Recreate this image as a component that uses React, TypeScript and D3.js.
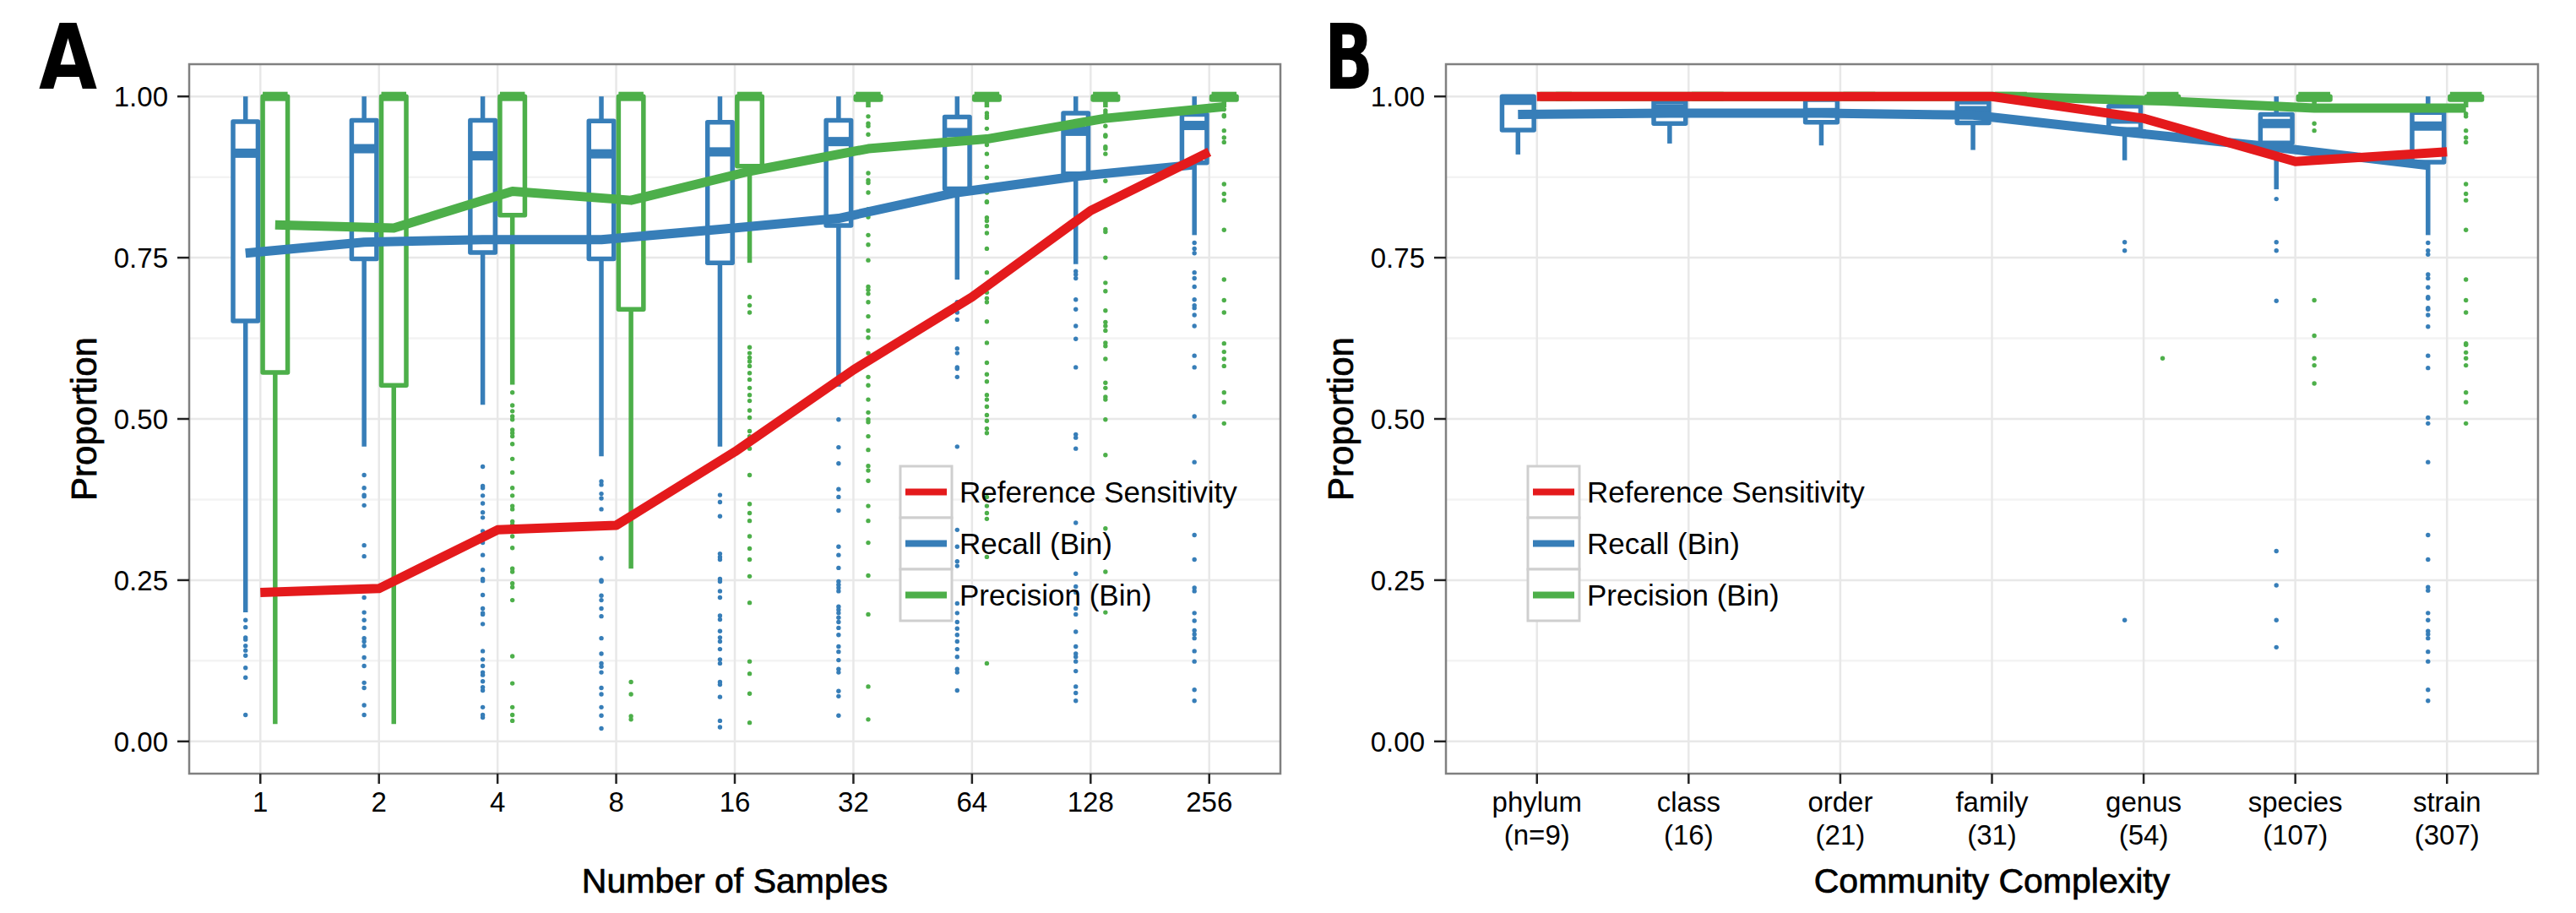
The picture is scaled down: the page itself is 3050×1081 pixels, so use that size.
import React from 'react';
import * as d3 from 'd3';

const W = 3050;
const H = 1081;
const RED = '#E41A1C';
const BLUE = '#377EB8';
const GREEN = '#4DAF4A';
const FONT = "'Liberation Sans', Arial, Helvetica, sans-serif";
const LETTER_FONT = "'Liberation Sans Narrow', 'DejaVu Sans Condensed', 'Liberation Sans', sans-serif";

// y axis
const yTicks = [0, 0.25, 0.5, 0.75, 1];

// legend
const legendLabels = ['Reference Sensitivity', 'Recall (Bin)', 'Precision (Bin)'];
const legendColors = [RED, BLUE, GREEN];

// ---- panel A : number of samples ----
const sampleCats = ['1', '2', '4', '8', '16', '32', '64', '128', '256'];
const sampleRefSens = [0.231, 0.237, 0.328, 0.335, 0.449, 0.576, 0.689, 0.823, 0.914];
const sampleRecall = [0.757, 0.774, 0.778, 0.778, 0.794, 0.811, 0.851, 0.876, 0.894];
const samplePrecision = [0.801, 0.796, 0.853, 0.839, 0.884, 0.919, 0.934, 0.966, 0.984];
// [lower whisker, q1, median, q3, upper whisker]
const sampleRecallBox = [
  [0.2, 0.652, 0.912, 0.961, 1.0],
  [0.457, 0.748, 0.919, 0.963, 1.0],
  [0.522, 0.758, 0.908, 0.963, 1.0],
  [0.442, 0.748, 0.911, 0.962, 1.0],
  [0.457, 0.742, 0.914, 0.96, 1.0],
  [0.55, 0.8, 0.93, 0.963, 1.0],
  [0.716, 0.857, 0.944, 0.968, 1.0],
  [0.74, 0.88, 0.946, 0.974, 1.0],
  [0.785, 0.897, 0.955, 0.972, 1.0],
];
const sampleRecallOut = [
  [0.188, 0.177, 0.161, 0.158, 0.148, 0.141, 0.133, 0.114, 0.099, 0.041],
  [0.413, 0.393, 0.382, 0.38, 0.366, 0.304, 0.287, 0.223, 0.2, 0.188, 0.176, 0.16, 0.155, 0.148, 0.13, 0.117, 0.091, 0.083, 0.056, 0.041],
  [0.426, 0.396, 0.393, 0.381, 0.369, 0.355, 0.347, 0.326, 0.308, 0.289, 0.266, 0.252, 0.249, 0.227, 0.206, 0.199, 0.197, 0.182, 0.14, 0.127, 0.117, 0.107, 0.103, 0.093, 0.084, 0.079, 0.053, 0.041, 0.037],
  [0.403, 0.398, 0.384, 0.377, 0.36, 0.284, 0.25, 0.248, 0.226, 0.219, 0.206, 0.194, 0.16, 0.136, 0.121, 0.116, 0.107, 0.083, 0.073, 0.053, 0.04, 0.02],
  [0.382, 0.371, 0.349, 0.291, 0.286, 0.282, 0.252, 0.248, 0.233, 0.223, 0.195, 0.189, 0.171, 0.161, 0.155, 0.143, 0.127, 0.121, 0.092, 0.088, 0.069, 0.032, 0.022],
  [0.499, 0.456, 0.431, 0.391, 0.379, 0.358, 0.302, 0.289, 0.269, 0.248, 0.243, 0.238, 0.233, 0.209, 0.204, 0.199, 0.192, 0.185, 0.176, 0.165, 0.147, 0.139, 0.126, 0.112, 0.107, 0.078, 0.07, 0.04],
  [0.681, 0.665, 0.654, 0.609, 0.602, 0.58, 0.578, 0.565, 0.457, 0.328, 0.302, 0.279, 0.272, 0.214, 0.199, 0.185, 0.175, 0.165, 0.155, 0.143, 0.131, 0.112, 0.107, 0.079],
  [0.729, 0.724, 0.718, 0.685, 0.67, 0.644, 0.624, 0.58, 0.476, 0.471, 0.454, 0.339, 0.26, 0.24, 0.231, 0.206, 0.197, 0.17, 0.147, 0.136, 0.131, 0.124, 0.109, 0.085, 0.075, 0.063],
  [0.773, 0.764, 0.757, 0.727, 0.718, 0.705, 0.685, 0.676, 0.672, 0.661, 0.644, 0.598, 0.58, 0.504, 0.433, 0.32, 0.282, 0.238, 0.233, 0.199, 0.187, 0.172, 0.166, 0.16, 0.14, 0.124, 0.08, 0.063],
];
const samplePrecisionBox = [
  [0.027, 0.572, 1.0, 1.0, 1.0],
  [0.027, 0.552, 1.0, 1.0, 1.0],
  [0.553, 0.816, 1.0, 1.0, 1.0],
  [0.268, 0.67, 1.0, 1.0, 1.0],
  [0.742, 0.892, 1.0, 1.0, 1.0],
  [0.983, 0.995, 1.0, 1.0, 1.0],
  [0.983, 0.995, 1.0, 1.0, 1.0],
  [0.983, 0.995, 1.0, 1.0, 1.0],
  [0.983, 0.995, 1.0, 1.0, 1.0],
];
const samplePrecisionOut = [
  [],
  [],
  [0.541, 0.521, 0.512, 0.504, 0.499, 0.483, 0.478, 0.473, 0.461, 0.438, 0.417, 0.393, 0.381, 0.365, 0.36, 0.341, 0.336, 0.318, 0.3, 0.268, 0.263, 0.245, 0.239, 0.219, 0.132, 0.09, 0.053, 0.041, 0.032],
  [0.092, 0.073, 0.039, 0.034],
  [0.689, 0.676, 0.665, 0.611, 0.602, 0.595, 0.589, 0.582, 0.571, 0.561, 0.548, 0.537, 0.528, 0.513, 0.502, 0.481, 0.473, 0.454, 0.413, 0.368, 0.354, 0.342, 0.318, 0.299, 0.282, 0.256, 0.215, 0.124, 0.105, 0.074, 0.029],
  [0.969, 0.958, 0.954, 0.941, 0.881, 0.87, 0.866, 0.851, 0.825, 0.813, 0.785, 0.77, 0.746, 0.705, 0.7, 0.694, 0.681, 0.659, 0.637, 0.626, 0.602, 0.587, 0.565, 0.552, 0.53, 0.51, 0.499, 0.495, 0.473, 0.452, 0.427, 0.42, 0.404, 0.365, 0.342, 0.308, 0.257, 0.197, 0.085, 0.034],
  [0.974, 0.97, 0.967, 0.95, 0.925, 0.911, 0.891, 0.874, 0.851, 0.837, 0.836, 0.812, 0.807, 0.799, 0.788, 0.764, 0.727, 0.696, 0.687, 0.681, 0.651, 0.618, 0.587, 0.569, 0.558, 0.537, 0.53, 0.519, 0.506, 0.497, 0.485, 0.478, 0.379, 0.365, 0.354, 0.345, 0.286, 0.121],
  [0.978, 0.974, 0.964, 0.954, 0.94, 0.938, 0.922, 0.919, 0.911, 0.869, 0.794, 0.79, 0.75, 0.711, 0.698, 0.668, 0.65, 0.644, 0.637, 0.618, 0.613, 0.593, 0.556, 0.548, 0.534, 0.53, 0.499, 0.444, 0.33, 0.263, 0.2],
  [0.98, 0.971, 0.969, 0.947, 0.936, 0.929, 0.864, 0.849, 0.839, 0.793, 0.716, 0.684, 0.665, 0.617, 0.604, 0.593, 0.582, 0.541, 0.526, 0.493],
];

// ---- panel B : community complexity ----
const levelCats = ['phylum', 'class', 'order', 'family', 'genus', 'species', 'strain'];
const levelCounts = ['(n=9)', '(16)', '(21)', '(31)', '(54)', '(107)', '(307)'];
const levelRefSens = [1.0, 1.0, 1.0, 1.0, 0.966, 0.899, 0.914];
const levelRecall = [0.972, 0.974, 0.974, 0.971, 0.945, 0.921, 0.893];
const levelPrecision = [1.0, 1.0, 1.0, 1.0, 0.993, 0.982, 0.982];
const levelRecallBox = [
  [0.91, 0.948, 0.994, 1.0, 1.0],
  [0.927, 0.958, 0.981, 0.992, 1.0],
  [0.924, 0.96, 0.975, 0.995, 1.0],
  [0.917, 0.959, 0.978, 0.991, 1.0],
  [0.901, 0.949, 0.965, 0.985, 1.0],
  [0.856, 0.928, 0.958, 0.972, 1.0],
  [0.785, 0.898, 0.954, 0.975, 1.0],
];
const levelRecallOut = [
  [],
  [],
  [],
  [],
  [0.774, 0.761, 0.188],
  [0.841, 0.774, 0.761, 0.683, 0.295, 0.242, 0.188, 0.146],
  [0.773, 0.761, 0.755, 0.724, 0.718, 0.704, 0.689, 0.687, 0.672, 0.67, 0.661, 0.643, 0.598, 0.579, 0.502, 0.493, 0.433, 0.32, 0.282, 0.239, 0.234, 0.199, 0.188, 0.171, 0.166, 0.16, 0.139, 0.124, 0.08, 0.063],
];
const levelPrecisionBox = [
  [1.0, 1.0, 1.0, 1.0, 1.0],
  [1.0, 1.0, 1.0, 1.0, 1.0],
  [1.0, 1.0, 1.0, 1.0, 1.0],
  [1.0, 1.0, 1.0, 1.0, 1.0],
  [0.99, 0.997, 1.0, 1.0, 1.0],
  [0.983, 0.995, 1.0, 1.0, 1.0],
  [0.983, 0.995, 1.0, 1.0, 1.0],
];
const levelPrecisionOut = [
  [],
  [],
  [],
  [],
  [0.594],
  [0.958, 0.947, 0.684, 0.629, 0.594, 0.583, 0.555],
  [0.973, 0.969, 0.947, 0.936, 0.929, 0.864, 0.849, 0.839, 0.793, 0.716, 0.684, 0.665, 0.617, 0.615, 0.603, 0.594, 0.583, 0.541, 0.526, 0.493],
];

const y = d3.scaleLinear().domain([-0.05, 1.05]).range([916, 76]);
const fmt = d3.format('.2f');

function Boxes({ x, cats, boxes, outs, color, off, bw }) {
  return (
    <g stroke={color} fill="none">
      {boxes.map((b, i) => {
        const cx = x(cats[i]) + off;
        const [lo, q1, med, q3, hi] = b;
        return (
          <g key={i}>
            <line x1={cx} x2={cx} y1={y(hi)} y2={y(q3)} strokeWidth={5.5} />
            <line x1={cx} x2={cx} y1={y(q1)} y2={y(lo)} strokeWidth={5.5} />
            <rect x={cx - bw / 2} y={y(q3)} width={bw} height={Math.max(0.5, y(q1) - y(q3))}
              fill="white" strokeWidth={5.5} strokeLinejoin="round" />
            <line x1={cx - bw / 2} x2={cx + bw / 2} y1={y(med)} y2={y(med)} strokeWidth={11} />
          </g>
        );
      })}
      {outs.map((o, i) => o.map((v, j) => (
        <circle key={i + '-' + j} cx={x(cats[i]) + off} cy={y(v)} r={2.7} fill={color} stroke="none" />
      )))}
    </g>
  );
}

function Panel({ letter, letterX, letterW, left, right, cats, sub, xTitle, legendX,
  recallBox, recallOut, precBox, precOut, refSens, recall, precision }) {
  const x = d3.scalePoint().domain(cats).range([left, right]).padding(0.6);
  const step = x.step();
  const off = step * 0.125;
  const bw = step * 0.21;
  const top = y.range()[1];
  const bottom = y.range()[0];
  const minor = d3.pairs(yTicks).map(([a, b]) => (a + b) / 2);
  const line = (o) => d3.line().x((d, i) => x(cats[i]) + o).y((d) => y(d));
  const midX = (left + right) / 2;
  const midY = (top + bottom) / 2;
  return (
    <g>
      {/* grid */}
      {minor.map((t) => (
        <line key={'m' + t} x1={left} x2={right} y1={y(t)} y2={y(t)} stroke="#F3F3F3" strokeWidth={2.5} />
      ))}
      {yTicks.map((t) => (
        <line key={'g' + t} x1={left} x2={right} y1={y(t)} y2={y(t)} stroke="#E8E8E8" strokeWidth={2.5} />
      ))}
      {cats.map((c) => (
        <line key={'v' + c} x1={x(c)} x2={x(c)} y1={top} y2={bottom} stroke="#E8E8E8" strokeWidth={2.5} />
      ))}

      <Boxes x={x} cats={cats} boxes={recallBox} outs={recallOut} color={BLUE} off={-off} bw={bw} />
      <Boxes x={x} cats={cats} boxes={precBox} outs={precOut} color={GREEN} off={off} bw={bw} />

      <path d={line(-off)(recall)} fill="none" stroke={BLUE} strokeWidth={11} strokeLinejoin="round" />
      <path d={line(off)(precision)} fill="none" stroke={GREEN} strokeWidth={11} strokeLinejoin="round" />
      <path d={line(0)(refSens)} fill="none" stroke={RED} strokeWidth={11} strokeLinejoin="round" />

      {/* border */}
      <rect x={left} y={top} width={right - left} height={bottom - top} fill="none" stroke="#808080" strokeWidth={2.5} />

      {/* y axis */}
      {yTicks.map((t) => (
        <g key={'yt' + t}>
          <line x1={left - 14} x2={left} y1={y(t)} y2={y(t)} stroke="#222" strokeWidth={2.5} />
          <text x={left - 25} y={y(t)} dy="0.36em" textAnchor="end" fontSize={33} fill="#000" fontFamily={FONT}>{fmt(t)}</text>
        </g>
      ))}
      {/* x axis */}
      {cats.map((c, i) => (
        <g key={'xt' + c}>
          <line x1={x(c)} x2={x(c)} y1={bottom} y2={bottom + 12} stroke="#222" strokeWidth={2.5} />
          <text x={x(c)} y={961} textAnchor="middle" fontSize={33} fill="#000" fontFamily={FONT}>{c}</text>
          {sub && <text x={x(c)} y={1000} textAnchor="middle" fontSize={33} fill="#000" fontFamily={FONT}>{sub[i]}</text>}
        </g>
      ))}

      <text x={midX} y={1057} textAnchor="middle" fontSize={41} fill="#000" stroke="#000" strokeWidth={0.7} fontFamily={FONT}>{xTitle}</text>
      <text transform={`translate(${left - 110},${midY}) rotate(-90)`} textAnchor="middle" fontSize={42}
        fill="#000" stroke="#000" strokeWidth={0.7} fontFamily={FONT}>Proportion</text>

      <text x={letterX} y={105} fontSize={107} fontWeight="bold" fill="#000" fontFamily={LETTER_FONT}
        textLength={letterW} lengthAdjust="spacingAndGlyphs">{letter}</text>

      {/* legend */}
      {legendLabels.map((lab, i) => {
        const ky = 552 + i * 61;
        return (
          <g key={lab}>
            <rect x={legendX} y={ky} width={61} height={61} fill="white" stroke="#CFCFCF" strokeWidth={3} />
            <line x1={legendX + 6} x2={legendX + 55} y1={ky + 30.5} y2={ky + 30.5} stroke={legendColors[i]} strokeWidth={8} />
            <text x={legendX + 70} y={ky + 30.5} dy="0.36em" fontSize={35} fill="#000" fontFamily={FONT}>{lab}</text>
          </g>
        );
      })}
    </g>
  );
}

export default function App() {
  return (
    <svg width={W} height={H} style={{ position: 'absolute', left: 0, top: 0, display: 'block' }}>
      <rect width={W} height={H} fill="white" />
      <Panel letter="A" letterX={46} letterW={69} left={224} right={1516} cats={sampleCats} xTitle="Number of Samples" legendX={1066}
        recallBox={sampleRecallBox} recallOut={sampleRecallOut} precBox={samplePrecisionBox} precOut={samplePrecisionOut}
        refSens={sampleRefSens} recall={sampleRecall} precision={samplePrecision} />
      <Panel letter="B" letterX={1568} letterW={58} left={1712} right={3005} cats={levelCats} sub={levelCounts} xTitle="Community Complexity" legendX={1809}
        recallBox={levelRecallBox} recallOut={levelRecallOut} precBox={levelPrecisionBox} precOut={levelPrecisionOut}
        refSens={levelRefSens} recall={levelRecall} precision={levelPrecision} />
    </svg>
  );
}
